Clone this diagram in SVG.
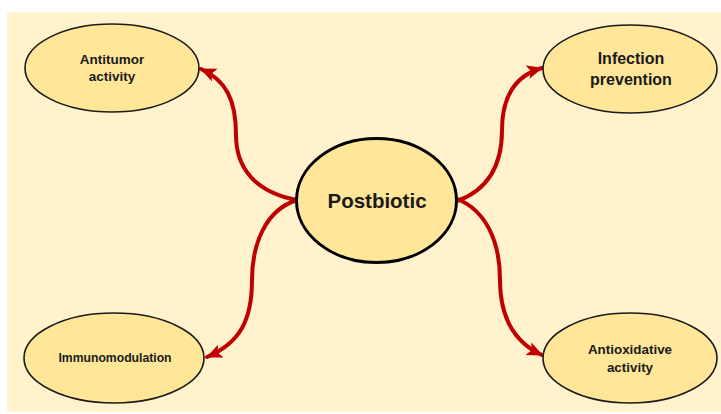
<svg xmlns="http://www.w3.org/2000/svg" width="721" height="414" viewBox="0 0 721 414">
<defs>
<style>
.node{fill:#FFE699;stroke:#1a1a1a;stroke-width:1.6}
.main{fill:#FFE699;stroke:#000;stroke-width:3}
.t{font-family:"Liberation Sans",Arial,sans-serif;font-weight:bold;fill:#1a1a1a;text-anchor:middle}
.c{fill:none;stroke:#C00000;stroke-width:4;stroke-linecap:round}
</style>
<marker id="ah" markerUnits="userSpaceOnUse" markerWidth="18" markerHeight="16" refX="15" refY="7" orient="auto">
<path d="M0,0 L16,7 L0,14 L3.5,7 Z" fill="#C00000"/>
</marker>
</defs>
<rect x="0" y="0" width="721" height="414" fill="#fff"/>
<rect x="7" y="12" width="714" height="400" fill="#FFF2CC"/>
<g id="connectors">
<path class="c" d="M297,200 C255,192 236,168 236,135 C236,100 226,80 201,69" marker-end="url(#ah)"/>
<path class="c" d="M297,200 C265,210 252,245 252,280 C252,320 240,343 207,357" marker-end="url(#ah)"/>
<path class="c" d="M457,201 C488,190 502,165 502,130 C502,97 514,76 542,68" marker-end="url(#ah)"/>
<path class="c" d="M457,199 C485,210 500,240 500,280 C500,318 514,342 542,355" marker-end="url(#ah)"/>
</g>
<g id="antitumor">
<ellipse class="node" cx="112" cy="68" rx="87" ry="44"/>
<text class="t" x="112" y="64" font-size="13.5">Antitumor</text>
<text class="t" x="112" y="81" font-size="13.5">activity</text>
</g>
<g id="infection">
<ellipse class="node" cx="630" cy="69" rx="87" ry="44"/>
<text class="t" x="631" y="64" font-size="16">Infection</text>
<text class="t" x="631" y="85" font-size="16">prevention</text>
</g>
<g id="postbiotic">
<ellipse class="main" cx="376.5" cy="200.5" rx="80" ry="62"/>
<text class="t" x="377" y="208" font-size="20.5">Postbiotic</text>
</g>
<g id="immunomodulation">
<ellipse class="node" cx="114" cy="358" rx="90" ry="45"/>
<text class="t" x="115" y="362" font-size="12.2">Immunomodulation</text>
</g>
<g id="antioxidative">
<ellipse class="node" cx="630" cy="358" rx="87" ry="45"/>
<text class="t" x="630" y="354" font-size="13.4">Antioxidative</text>
<text class="t" x="630" y="372" font-size="13.4">activity</text>
</g>
</svg>
